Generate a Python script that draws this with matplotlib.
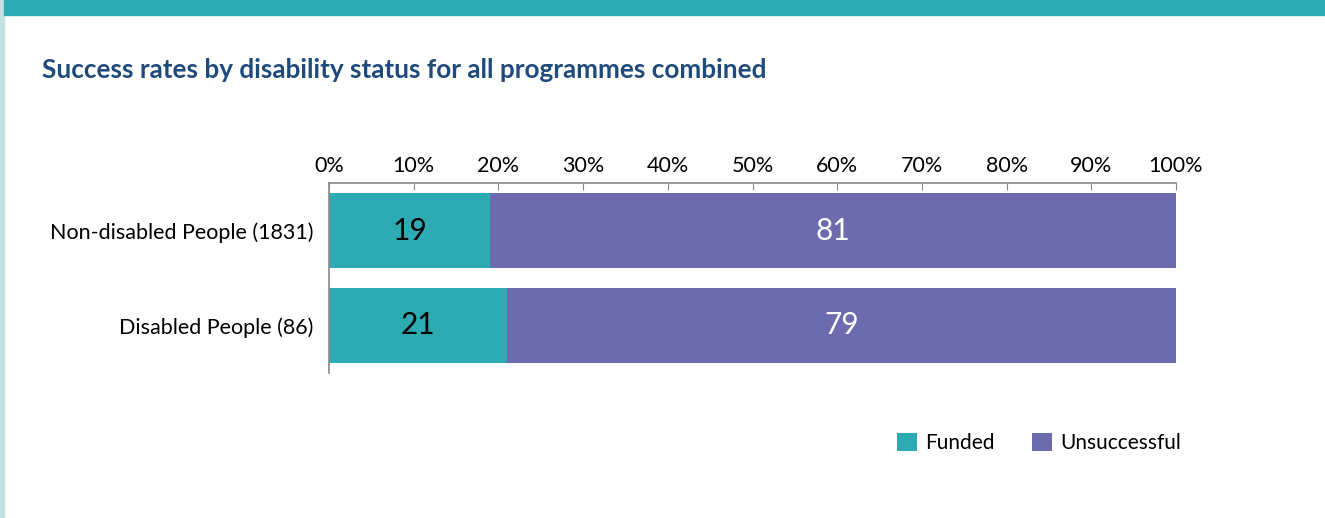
import matplotlib.pyplot as plt
from matplotlib.patches import Rectangle

groups = ['Non-disabled People (1831)', 'Disabled People (86)']
funded = [19, 21]
unsuccessful = [81, 79]
series_names = ['Funded', 'Unsuccessful']
x_ticks = [0, 10, 20, 30, 40, 50, 60, 70, 80, 90, 100]

teal = '#2eaab2'
purple = '#6b6bae'

plt.rcParams['font.family'] = ['Lato', 'DejaVu Sans']

if __name__ == "__main__":
    fig = plt.figure(figsize=(13.25, 5.18), dpi=100)
    W, H = 1325, 518

    # page decorations
    fig.patches.append(Rectangle((0, 0), 4 / W, 1, transform=fig.transFigure,
                                 color='#c4e0e4', zorder=0))
    fig.patches.append(Rectangle((4 / W, 1 - 15 / H), 1, 15 / H,
                                 transform=fig.transFigure, color=teal, zorder=0))

    fig.text(42 / W, 1 - 70 / H, 'Success rates by disability status for all programmes combined',
             fontsize=18.8, fontweight='bold', color='#1f4a7c', va='center', ha='left')

    ax = fig.add_axes([329 / W, 1 - 373 / H, (1176 - 329) / W, 190 / H])
    y = list(range(len(groups)))
    b1 = ax.barh(y, funded, height=0.79, color=teal, label=series_names[0])
    b2 = ax.barh(y, unsuccessful, left=funded, height=0.79, color=purple, label=series_names[1])

    for i in y:
        ax.text(funded[i] / 2, i, str(funded[i]), ha='center', va='center',
                fontsize=21.5, color='black')
        ax.text(funded[i] + unsuccessful[i] / 2, i, str(unsuccessful[i]), ha='center',
                va='center', fontsize=21.5, color='white')

    ax.set_xlim(0, 100)
    ax.set_ylim(1.5, -0.5)
    ax.set_xticks(x_ticks)
    ax.set_xticklabels([f'{t}%' for t in x_ticks])
    ax.xaxis.tick_top()
    ax.tick_params(axis='x', direction='in', length=5, color='#888888',
                   labelsize=15.5, pad=5)
    ax.set_yticks(y)
    ax.set_yticklabels(groups)
    ax.tick_params(axis='y', length=0, labelsize=15.5, pad=11)

    for s in ['right', 'bottom']:
        ax.spines[s].set_visible(False)
    for s in ['top', 'left']:
        ax.spines[s].set_color('#888888')
        ax.spines[s].set_linewidth(1.2)

    fig.legend(handles=[b1, b2], labels=series_names, loc='center right',
               bbox_to_anchor=(1200 / W, 1 - 443 / H), ncol=2, frameon=False,
               fontsize=15, handlelength=0.95, handleheight=0.95, handletextpad=0.4,
               columnspacing=1.8)

    fig.savefig('out.png', dpi=100, facecolor='white')
